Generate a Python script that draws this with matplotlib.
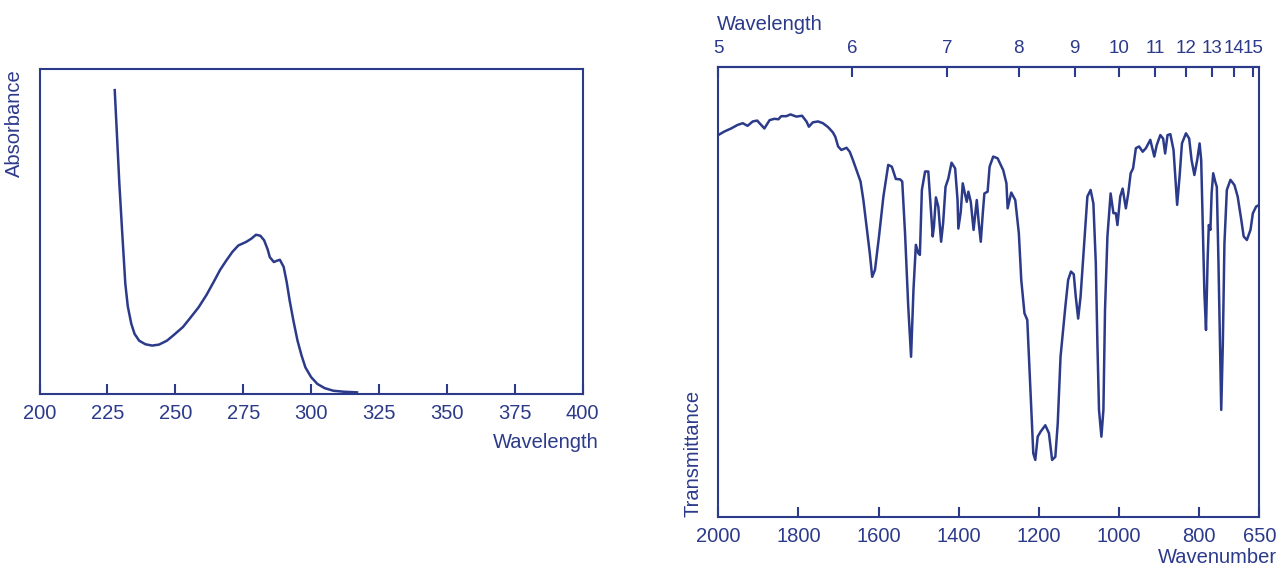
import numpy as np
import matplotlib.pyplot as plt

plt.rcParams['font.family'] = ['Liberation Sans', 'DejaVu Sans']
plt.rcParams['font.size'] = 14.5

navy = '#2c3a8a'

# UV spectrum (absorbance, arbitrary units 0..1)
uv_nm = [227.7, 228.5, 229.4, 230.5, 231.6, 232.5, 233.8, 235.0, 236.7, 239.0, 241.5,
         244.0, 246.9, 249.5, 252.8, 255.5, 258.6, 261.5, 264.4, 266.5, 268.8, 271.0,
         273.2, 276.1, 278.0, 279.7, 281.3, 282.7, 284.0, 284.8, 286.3, 287.4, 288.5,
         289.9, 291.0, 292.1, 293.5, 295.0, 296.5, 297.9, 300.0, 302.3, 305.0, 308.2,
         312.0, 316.9]
uv_abs = [0.935, 0.80, 0.647, 0.49, 0.339, 0.27, 0.216, 0.185, 0.164, 0.153, 0.149,
          0.152, 0.164, 0.182, 0.206, 0.234, 0.267, 0.305, 0.349, 0.382, 0.411, 0.437,
          0.457, 0.468, 0.478, 0.490, 0.487, 0.473, 0.445, 0.421, 0.406, 0.410, 0.413,
          0.391, 0.345, 0.288, 0.225, 0.164, 0.118, 0.082, 0.052, 0.031, 0.018, 0.010,
          0.007, 0.005]

# IR spectrum (transmittance, %)
ir_wn = [2000, 1985, 1968, 1952, 1939, 1927, 1914, 1903, 1895, 1885, 1872, 1860, 1850,
         1843, 1830, 1820, 1805, 1791, 1780, 1774, 1764, 1751, 1739, 1726, 1714, 1708,
         1701, 1693, 1680, 1672, 1664, 1655, 1645, 1638, 1630, 1622, 1616, 1609, 1599,
         1588, 1576, 1567, 1557, 1546, 1541, 1534, 1526, 1519, 1513, 1507, 1501, 1497,
         1492, 1484, 1476, 1470, 1465, 1462, 1457, 1451, 1444, 1439, 1433, 1426, 1418,
         1409, 1403, 1401, 1395, 1390, 1384, 1380, 1376, 1370, 1363, 1355, 1350, 1345,
         1340, 1336, 1328, 1323, 1314, 1303, 1289, 1281, 1278, 1269, 1259, 1250, 1244,
         1236, 1229, 1223, 1214, 1209, 1203, 1196, 1184, 1175, 1167, 1159, 1153, 1146,
         1134, 1127, 1120, 1113, 1108, 1102, 1096, 1087, 1079, 1071, 1064, 1058, 1054,
         1050, 1044, 1039, 1035, 1029, 1021, 1014, 1008, 1004, 997, 991, 983, 977, 971,
         965, 958, 950, 941, 933, 922, 912, 906, 897, 890, 885, 879, 872, 864, 855, 849,
         843, 833, 825, 819, 812, 805, 799, 795, 791, 787, 783, 779, 776, 772, 769, 765,
         760, 756, 752, 748, 745, 741, 737, 731, 722, 712, 704, 695, 689, 681, 672, 666,
         658, 650]
ir_t = [87.0, 87.8, 88.5, 89.3, 89.7, 89.1, 90.1, 90.3, 89.5, 88.5, 90.4, 90.7, 90.6,
        91.3, 91.3, 91.7, 91.2, 91.4, 90.1, 88.9, 89.9, 90.1, 89.7, 88.8, 87.6, 86.6,
        84.4, 83.6, 84.1, 83.2, 81.3, 79.0, 76.4, 72.2, 66.1, 60.1, 54.7, 56.3, 63.9,
        73.0, 80.2, 79.8, 77.0, 76.9, 76.4, 64.6, 47.9, 36.5, 51.7, 62.0, 60.1, 59.7,
        74.5, 78.7, 78.7, 70.7, 63.9, 66.1, 72.8, 70.7, 62.7, 66.9, 75.2, 77.1, 80.7,
        79.4, 72.2, 65.7, 69.5, 76.0, 73.4, 71.8, 74.1, 71.8, 65.4, 72.2, 66.9, 62.7,
        69.2, 73.7, 74.1, 79.8, 82.1, 81.7, 79.0, 76.0, 70.3, 73.9, 72.2, 64.6, 54.0,
        46.4, 44.9, 32.7, 14.5, 13.0, 18.3, 19.4, 20.9, 19.1, 13.0, 13.7, 21.3, 36.5,
        47.9, 54.0, 55.9, 55.3, 50.2, 45.2, 50.2, 62.3, 73.0, 74.5, 71.4, 57.8, 39.5,
        24.4, 18.3, 24.4, 47.2, 63.9, 73.7, 69.2, 69.2, 66.5, 73.0, 74.8, 70.3, 73.7, 78.3,
        79.4, 84.0, 84.4, 83.2, 84.0, 85.9, 82.1, 84.7, 87.0, 86.2, 82.8, 87.0, 87.2, 83.6, 71.1, 77.5,
        85.1, 87.4, 86.2, 81.3, 77.9, 81.3, 85.1, 81.3, 66.1, 51.0, 42.6, 58.5, 66.5, 65.4, 73.7, 78.3,
        76.4, 75.2, 58.5, 39.5, 24.4, 39.5, 62.3, 74.5, 76.8, 75.6, 73.0, 67.7, 63.9, 63.1, 65.4, 69.2,
        70.7, 71.1]

uv_ticks = [200, 225, 250, 275, 300, 325, 350, 375, 400]
wn_ticks = [2000, 1800, 1600, 1400, 1200, 1000, 800, 650]
um_ticks = [5, 6, 7, 8, 9, 10, 11, 12, 13, 14, 15]


def wn_to_um(x):
    x = np.asarray(x, dtype=float)
    with np.errstate(divide='ignore'):
        return 1e4 / x


def style(ax):
    for s in ax.spines.values():
        s.set_color(navy)
        s.set_linewidth(1.5)
    ax.tick_params(axis='x', direction='in', length=7, width=1.5, color=navy,
                   labelcolor=navy, pad=7)
    ax.set_yticks([])


fig = plt.figure(figsize=(12.88, 5.72), dpi=100)
ax1 = fig.add_axes([39.5 / 1288, (572 - 394) / 572, 543.2 / 1288, 325 / 572])
ax2 = fig.add_axes([718.3 / 1288, (572 - 517) / 572, 541 / 1288, 450 / 572])

# left: UV absorbance
ax1.plot(uv_nm, uv_abs, color=navy, lw=1.8, solid_joinstyle='round')
ax1.set_xlim(200, 400)
ax1.set_ylim(0, 1)
ax1.set_xticks(uv_ticks)
style(ax1)
ax1.set_ylabel('Absorbance', color=navy, loc='top')
ax1.yaxis.set_label_coords(-0.028, 1.0)
ax1.set_xlabel('Wavelength', color=navy, loc='right')
ax1.xaxis.set_label_coords(1.03, -0.12)

# right: IR transmittance
ax2.plot(ir_wn, ir_t, color=navy, lw=1.8, solid_joinstyle='round')
ax2.set_xlim(2000, 650)
ax2.set_ylim(0, 102.5)
ax2.set_xticks(wn_ticks)
style(ax2)
ax2.set_ylabel('Transmittance', color=navy, loc='bottom')
ax2.yaxis.set_label_coords(-0.030, 0.0)
ax2.set_xlabel('Wavenumber', color=navy, loc='right')
ax2.xaxis.set_label_coords(1.033, -0.068)

top = ax2.secondary_xaxis('top', functions=(wn_to_um, wn_to_um))
top.set_xticks(um_ticks)
top.spines['top'].set_color(navy)
top.spines['top'].set_linewidth(1.5)
top.tick_params(axis='x', direction='in', length=7, width=1.5, color=navy,
                labelcolor=navy, pad=7, labelsize=13.5)
top.set_xlabel('Wavelength', color=navy, loc='left')
top.xaxis.set_label_coords(-0.003, 1.082, transform=ax2.transAxes)

fig.savefig('out.png', dpi=100)
